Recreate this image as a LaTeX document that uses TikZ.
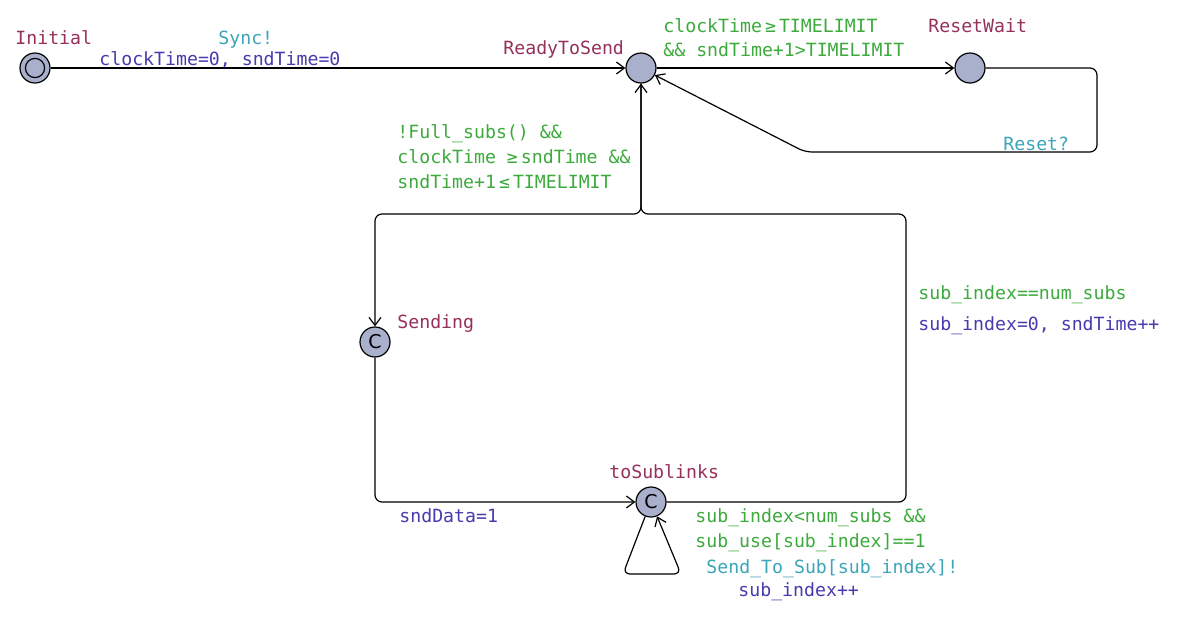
\documentclass[tikz,border=0pt]{standalone}
\usepackage{fontspec}
\setmonofont{DejaVu Sans Mono}
\setsansfont{DejaVu Sans}
\usetikzlibrary{arrows.meta}
\definecolor{locname}{RGB}{150,50,90}
\definecolor{guardc}{RGB}{60,170,60}
\definecolor{syncc}{RGB}{60,165,185}
\definecolor{assignc}{RGB}{70,60,175}
\definecolor{locfill}{RGB}{168,176,204}
\begin{document}
\begin{tikzpicture}[x=0.5pt,y=-0.5pt,
  loc/.style={circle,draw,line width=0.6pt,fill=locfill,minimum size=15pt,inner sep=0pt,font=\sffamily\fontsize{9.5}{10}\selectfont},
  lbl/.style={anchor=base west,inner sep=0pt,font=\ttfamily\fontsize{9.1}{10}\selectfont},
  lname/.style={lbl,text=locname},
  lguard/.style={lbl,text=guardc},
  lsync/.style={lbl,text=syncc},
  lassign/.style={lbl,text=assignc},
  conn/.style={draw,line width=0.6pt,rounded corners=3.5pt,-{Straight Barb[length=4pt,width=6pt]}}]
\useasboundingbox (0,0) rectangle (1180,622);
\fill[white] (0,0) rectangle (1180,622);
% locations
\node[loc] (I) at (35,68) {};
\draw[line width=0.6pt] (I) circle (4.8pt);
\node[loc] (R) at (641,68) {};
\node[loc] (W) at (970,68) {};
\node[loc] (S) at (375,342) {C};
\node[loc] (T) at (651,502) {C};
% names
\node[lname] (nI) at (15,44) {Initial};
\node[lname] (nR) at (503,54) {ReadyToSend};
\node[lname] (nW) at (928,32) {ResetWait};
\node[lname] (nS) at (397,328) {Sending};
\node[lname] (nT) at (609,478) {toSublinks};
% edges
\draw[conn] (I) -- (R);
\draw[conn] (R) -- (W);
\draw[conn] (W.east) -- (1097,68) -- (1097,152) -- (805,152) -- (R);
\draw[conn] (R.south) -- (641,214) -- (375,214) -- (S.north);
\draw[conn] (S.south) -- (375,502) -- (T.west);
\draw[conn] (T.east) -- (906,502) -- (906,214) -- (641,214) -- (R.south);
\draw[conn] (T.248) -- (623,574) -- (681,574) -- (T.293);
% labels
\node[lsync] (l1) at (218,44) {Sync!};
\node[lassign] (l2) at (99,65) {clockTime=0, sndTime=0};
\node[lguard] (l3) at (663,32) {clockTime\,≥\,TIMELIMIT};
\node[lguard] (l4) at (663,56) {\&\& sndTime+1>TIMELIMIT};
\node[lsync] (l5) at (1003,150) {Reset?};
\node[lguard] (l6) at (397,138) {!Full\_subs() \&\&};
\node[lguard] (l7) at (397,163) {clockTime ≥\,sndTime \&\&};
\node[lguard] (l8) at (397,188) {sndTime+1\,≤\,TIMELIMIT};
\node[lguard] (l9) at (918,299) {sub\_index==num\_subs};
\node[lassign] (l10) at (918,330) {sub\_index=0, sndTime++};
\node[lassign] (l11) at (399,522) {sndData=1};
\node[lguard] (l12) at (695,522) {sub\_index<num\_subs \&\&};
\node[lguard] (l13) at (695,547) {sub\_use[sub\_index]==1};
\node[lsync] (l14) at (706,573) {Send\_To\_Sub[sub\_index]!};
\node[lassign] (l15) at (738,596) {sub\_index++};
\end{tikzpicture}
\end{document}
